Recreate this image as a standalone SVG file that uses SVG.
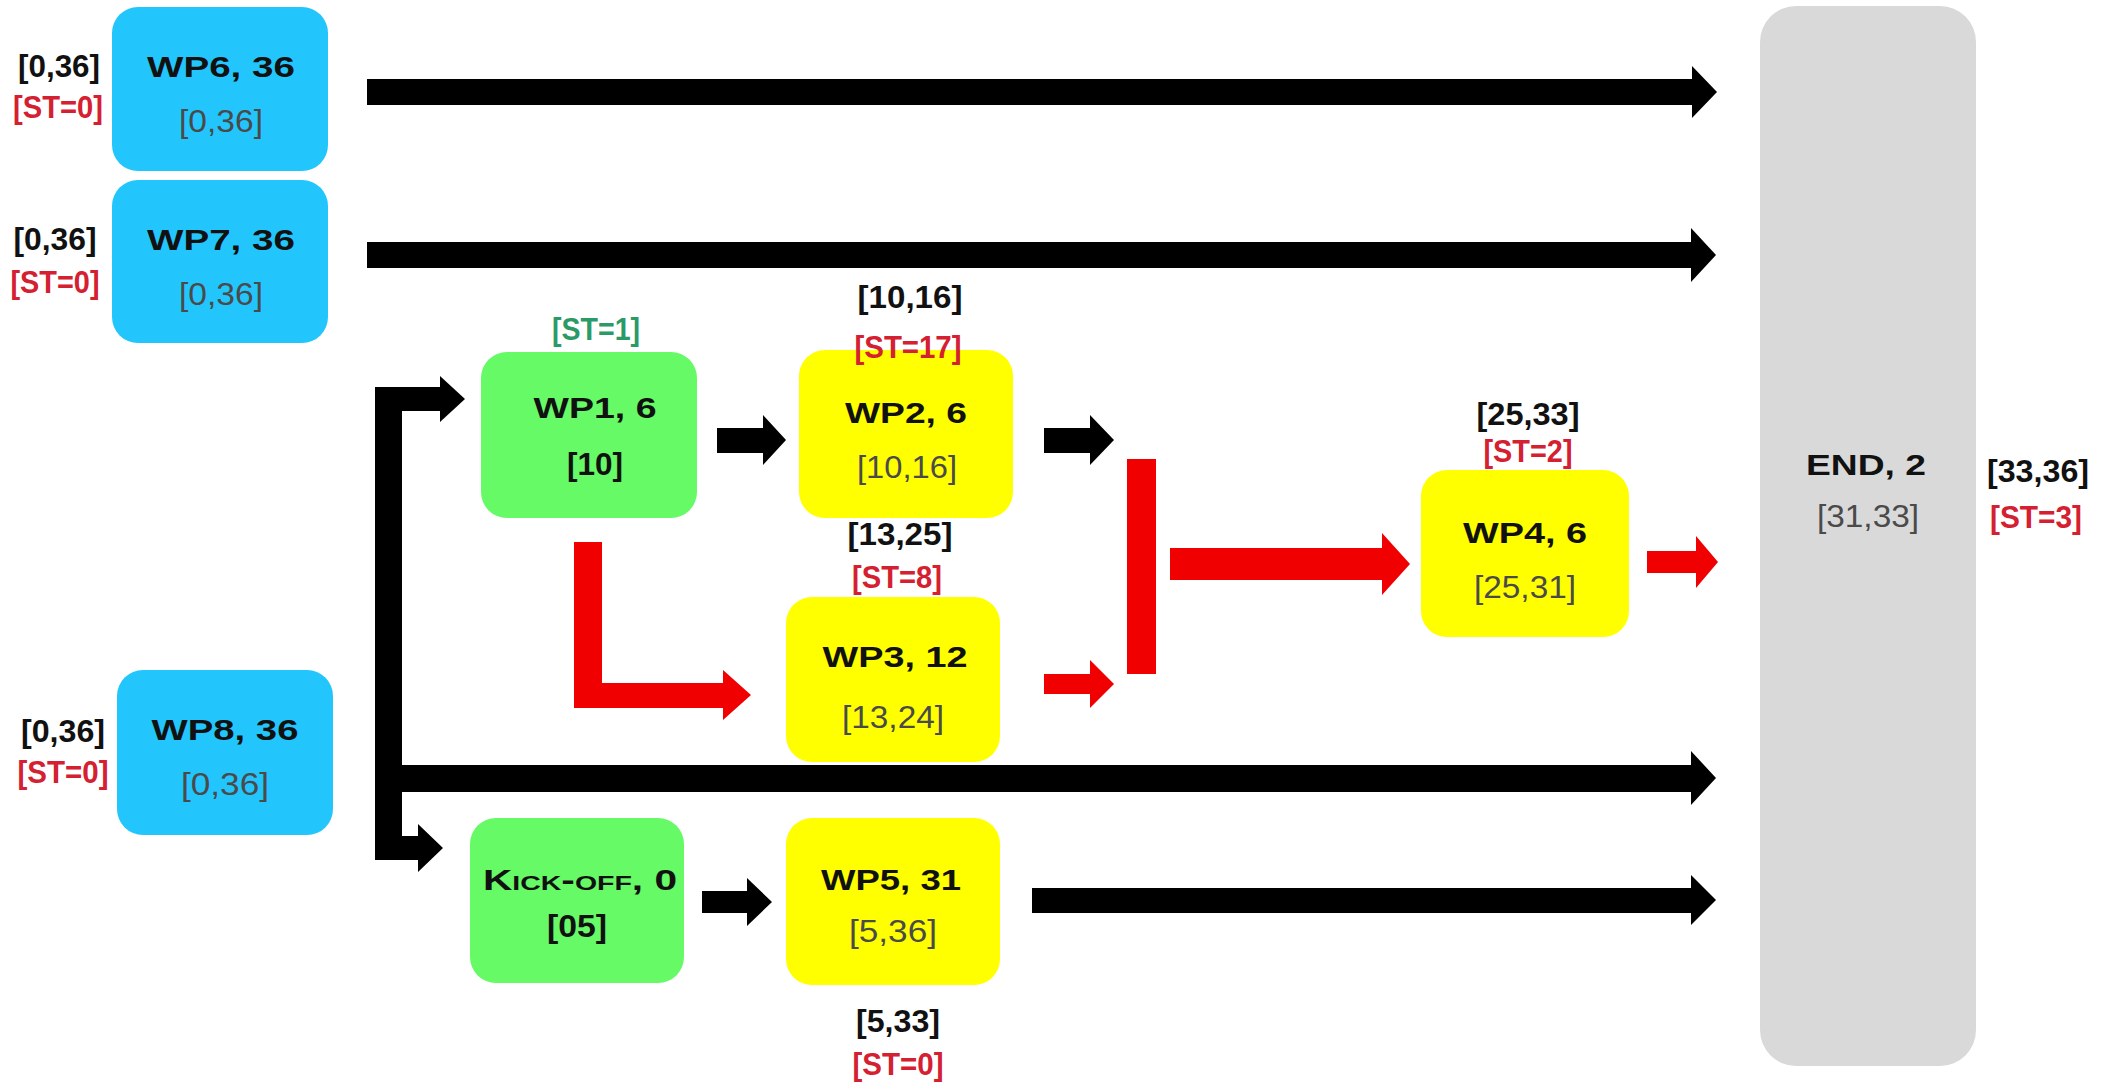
<svg xmlns="http://www.w3.org/2000/svg" width="2109" height="1084" viewBox="0 0 2109 1084">
<style>
.box{stroke:none}
.blue{fill:#22c6fc}
.green{fill:#66fa66}
.yellow{fill:#ffff00}
.gray{fill:#d9d9d9}
.t{font-family:"Liberation Sans",Arial,sans-serif;font-weight:bold;font-size:30px;fill:#111;text-anchor:middle}
.s{font-family:"Liberation Sans",Arial,sans-serif;font-size:32px;fill:#4a4a4a;text-anchor:middle}
.sb{font-family:"Liberation Sans",Arial,sans-serif;font-size:32px;font-weight:bold;fill:#111;text-anchor:middle}
.lb{font-family:"Liberation Sans",Arial,sans-serif;font-size:32px;font-weight:bold;fill:#111;text-anchor:middle}
.lr{font-family:"Liberation Sans",Arial,sans-serif;font-size:32px;font-weight:bold;fill:#d42030;text-anchor:middle}
.lg{font-family:"Liberation Sans",Arial,sans-serif;font-size:32px;font-weight:bold;fill:#2b9a66;text-anchor:middle}
.blk{fill:#000}
.red{fill:#f00000}
</style>
<rect width="2109" height="1084" fill="#fff"/>

<g id="connectors">
  <polygon class="blk" points="367,79 1692,79 1692,66 1717,92 1692,118 1692,105 367,105"/>
  <polygon class="blk" points="367,242 1691,242 1691,228 1716,255 1691,282 1691,268 367,268"/>
  <rect class="blk" x="375" y="387" width="27" height="473"/>
  <polygon class="blk" points="375,387 440,387 440,376 465,399 440,422 440,411 375,411"/>
  <polygon class="blk" points="375,836 418,836 418,824 443,848 418,872 418,860 375,860"/>
  <polygon class="blk" points="400,765 1691,765 1691,751 1716,778 1691,805 1691,792 400,792"/>
  <polygon class="blk" points="717,428 763,428 763,415 786,440 763,465 763,453 717,453"/>
  <polygon class="blk" points="1044,428 1090,428 1090,415 1114,440 1090,465 1090,453 1044,453"/>
  <polygon class="blk" points="702,891 747,891 747,878 772,902 747,926 747,913 702,913"/>
  <polygon class="blk" points="1032,888 1691,888 1691,875 1716,900 1691,925 1691,913 1032,913"/>
  <rect class="red" x="574" y="542" width="28" height="166"/>
  <polygon class="red" points="574,683 723,683 723,670 751,695 723,720 723,708 574,708"/>
  <polygon class="red" points="1044,674 1090,674 1090,660 1114,684 1090,708 1090,694 1044,694"/>
  <rect class="red" x="1127" y="459" width="29" height="215"/>
  <polygon class="red" points="1170,548 1382,548 1382,533 1410,564 1382,595 1382,580 1170,580"/>
  <polygon class="red" points="1647,551 1696,551 1696,536 1718,562 1696,588 1696,573 1647,573"/>
</g>

<g id="wp6">
  <rect class="box blue" x="112" y="7" width="216" height="164" rx="26"/>
  <text class="t" x="221" y="77" textLength="148" lengthAdjust="spacingAndGlyphs">WP6, 36</text>
  <text class="s" x="221" y="132" textLength="84" lengthAdjust="spacingAndGlyphs">[0,36]</text>
  <text class="lb" x="59" y="77" textLength="82" lengthAdjust="spacingAndGlyphs">[0,36]</text>
  <text class="lr" x="58" y="118" textLength="90" lengthAdjust="spacingAndGlyphs">[ST=0]</text>
</g>

<g id="wp7">
  <rect class="box blue" x="112" y="180" width="216" height="163" rx="26"/>
  <text class="t" x="221" y="250" textLength="148" lengthAdjust="spacingAndGlyphs">WP7, 36</text>
  <text class="s" x="221" y="305" textLength="84" lengthAdjust="spacingAndGlyphs">[0,36]</text>
  <text class="lb" x="55" y="250" textLength="83" lengthAdjust="spacingAndGlyphs">[0,36]</text>
  <text class="lr" x="55" y="293" textLength="89" lengthAdjust="spacingAndGlyphs">[ST=0]</text>
</g>

<g id="wp8">
  <rect class="box blue" x="117" y="670" width="216" height="165" rx="26"/>
  <text class="t" x="225" y="740" textLength="147" lengthAdjust="spacingAndGlyphs">WP8, 36</text>
  <text class="s" x="225" y="795" textLength="88" lengthAdjust="spacingAndGlyphs">[0,36]</text>
  <text class="lb" x="63" y="742" textLength="84" lengthAdjust="spacingAndGlyphs">[0,36]</text>
  <text class="lr" x="63" y="783" textLength="91" lengthAdjust="spacingAndGlyphs">[ST=0]</text>
</g>

<g id="wp1">
  <rect class="box green" x="481" y="352" width="216" height="166" rx="26"/>
  <text class="t" x="595" y="418" textLength="123" lengthAdjust="spacingAndGlyphs">WP1, 6</text>
  <text class="sb" x="595" y="475" textLength="56" lengthAdjust="spacingAndGlyphs">[10]</text>
  <text class="lg" x="596" y="340" textLength="88" lengthAdjust="spacingAndGlyphs">[ST=1]</text>
</g>

<g id="wp2">
  <rect class="box yellow" x="799" y="350" width="214" height="168" rx="26"/>
  <text class="t" x="906" y="423" textLength="122" lengthAdjust="spacingAndGlyphs">WP2, 6</text>
  <text class="s" x="907" y="478" textLength="100" lengthAdjust="spacingAndGlyphs">[10,16]</text>
  <text class="lb" x="910" y="308" textLength="105" lengthAdjust="spacingAndGlyphs">[10,16]</text>
  <text class="lr" x="908" y="358" textLength="107" lengthAdjust="spacingAndGlyphs">[ST=17]</text>
</g>

<g id="wp3">
  <rect class="box yellow" x="786" y="597" width="214" height="165" rx="26"/>
  <text class="t" x="895" y="667" textLength="145" lengthAdjust="spacingAndGlyphs">WP3, 12</text>
  <text class="s" x="893" y="728" textLength="102" lengthAdjust="spacingAndGlyphs">[13,24]</text>
  <text class="lb" x="900" y="545" textLength="105" lengthAdjust="spacingAndGlyphs">[13,25]</text>
  <text class="lr" x="897" y="588" textLength="90" lengthAdjust="spacingAndGlyphs">[ST=8]</text>
</g>

<g id="wp4">
  <rect class="box yellow" x="1421" y="470" width="208" height="167" rx="26"/>
  <text class="t" x="1525" y="543" textLength="124" lengthAdjust="spacingAndGlyphs">WP4, 6</text>
  <text class="s" x="1525" y="598" textLength="102" lengthAdjust="spacingAndGlyphs">[25,31]</text>
  <text class="lb" x="1528" y="425" textLength="103" lengthAdjust="spacingAndGlyphs">[25,33]</text>
  <text class="lr" x="1528" y="462" textLength="89" lengthAdjust="spacingAndGlyphs">[ST=2]</text>
</g>

<g id="kickoff">
  <rect class="box green" x="470" y="818" width="214" height="165" rx="26"/>
  <text class="t" x="580" y="890" font-variant="small-caps" textLength="194" lengthAdjust="spacingAndGlyphs">Kick-off, 0</text>
  <text class="sb" x="577" y="937" textLength="60" lengthAdjust="spacingAndGlyphs">[05]</text>
</g>

<g id="wp5">
  <rect class="box yellow" x="786" y="818" width="214" height="167" rx="26"/>
  <text class="t" x="891" y="890" textLength="140" lengthAdjust="spacingAndGlyphs">WP5, 31</text>
  <text class="s" x="893" y="942" textLength="88" lengthAdjust="spacingAndGlyphs">[5,36]</text>
  <text class="lb" x="898" y="1032" textLength="84" lengthAdjust="spacingAndGlyphs">[5,33]</text>
  <text class="lr" x="898" y="1075" textLength="91" lengthAdjust="spacingAndGlyphs">[ST=0]</text>
</g>

<g id="end">
  <rect class="box gray" x="1760" y="6" width="216" height="1060" rx="36"/>
  <text class="t" x="1866" y="475" textLength="120" lengthAdjust="spacingAndGlyphs">END, 2</text>
  <text class="s" x="1868" y="527" textLength="102" lengthAdjust="spacingAndGlyphs">[31,33]</text>
  <text class="lb" x="2038" y="482" textLength="102" lengthAdjust="spacingAndGlyphs">[33,36]</text>
  <text class="lr" x="2036" y="528" textLength="92" lengthAdjust="spacingAndGlyphs">[ST=3]</text>
</g>
</svg>
